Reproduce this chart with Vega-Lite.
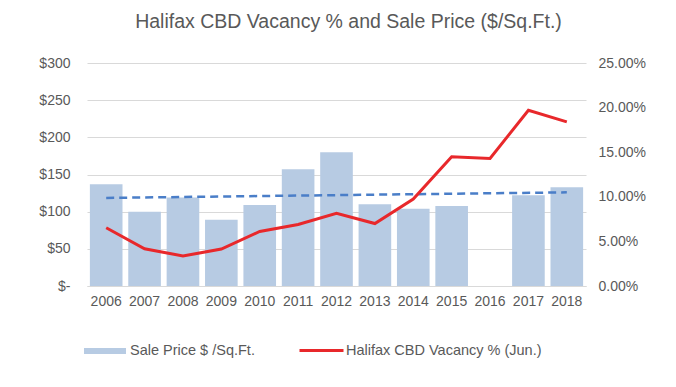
{
  "$schema": "https://vega.github.io/schema/vega-lite/v6.json",
  "width": 499,
  "height": 223,
  "autosize": {"type": "none"},
  "padding": {"left": 87, "top": 63, "right": 90, "bottom": 101},
  "background": "white",
  "title": {
    "text": "Halifax CBD Vacancy % and Sale Price ($/Sq.Ft.)",
    "font": "Liberation Sans",
    "fontSize": 19.5,
    "fontWeight": "normal",
    "color": "#595959",
    "anchor": "middle",
    "dx": 12,
    "offset": 24
  },
  "config": {
    "view": {"stroke": null},
    "font": "Liberation Sans",
    "axis": {
      "labelFont": "Liberation Sans",
      "labelFontSize": 14,
      "labelColor": "#595959",
      "ticks": false,
      "domain": false,
      "gridColor": "#d9d9d9",
      "title": null
    },
    "legend": {
      "labelFont": "Liberation Sans",
      "labelFontSize": 14.5,
      "labelColor": "#595959",
      "labelLimit": 400,
      "title": null
    }
  },
  "datasets": {
    "main": [
      {"year": "2006", "price": 137, "vacancy": 0.0653},
      {"year": "2007", "price": 100, "vacancy": 0.0418},
      {"year": "2008", "price": 119, "vacancy": 0.0336},
      {"year": "2009", "price": 89, "vacancy": 0.0414},
      {"year": "2010", "price": 109, "vacancy": 0.0612},
      {"year": "2011", "price": 157, "vacancy": 0.069},
      {"year": "2012", "price": 180, "vacancy": 0.0814},
      {"year": "2013", "price": 110, "vacancy": 0.07},
      {"year": "2014", "price": 104, "vacancy": 0.0974},
      {"year": "2015", "price": 107.5, "vacancy": 0.1448},
      {"year": "2016", "price": null, "vacancy": 0.1429},
      {"year": "2017", "price": 122, "vacancy": 0.197},
      {"year": "2018", "price": 133, "vacancy": 0.184}
    ],
    "trend": [
      {"year": "2006", "trend": 118.5},
      {"year": "2018", "trend": 126}
    ]
  },
  "data": {"name": "main"},
  "encoding": {
    "x": {
      "field": "year",
      "type": "ordinal",
      "scale": {"paddingInner": 0.15, "paddingOuter": 0.075},
      "axis": {
        "labelAngle": 0,
        "labelPadding": 8,
        "domain": true,
        "domainColor": "#d9d9d9",
        "grid": false
      }
    }
  },
  "layer": [
    {
      "mark": {"type": "bar", "color": "#b7cbe3"},
      "encoding": {
        "y": {
          "field": "price",
          "type": "quantitative",
          "scale": {"domain": [0, 300]},
          "axis": {
            "orient": "left",
            "values": [0, 50, 100, 150, 200, 250, 300],
            "labelExpr": "datum.value == 0 ? '$-' : '$' + datum.value",
            "labelPadding": 17,
            "grid": true
          }
        },
        "fill": {
          "datum": "Sale Price $ /Sq.Ft.",
          "scale": {"range": ["#b7cbe3"]},
          "legend": {
            "orient": "none",
            "legendX": -3,
            "legendY": 267,
            "symbolType": "M-1,-0.14H1V0.14H-1Z",
            "symbolSize": 1764,
            "symbolStrokeWidth": 0,
            "labelOffset": 4
          }
        }
      }
    },
    {
      "data": {"name": "trend"},
      "mark": {"type": "line", "color": "#4a7ec8", "strokeWidth": 2.5, "strokeDash": [8, 5]},
      "encoding": {
        "y": {
          "field": "trend",
          "type": "quantitative",
          "scale": {"domain": [0, 300]},
          "axis": null
        }
      }
    },
    {
      "mark": {"type": "line", "strokeWidth": 3},
      "encoding": {
        "y": {
          "field": "vacancy",
          "type": "quantitative",
          "scale": {"domain": [0, 0.25]},
          "axis": {
            "orient": "right",
            "format": ".2%",
            "values": [0, 0.05, 0.1, 0.15, 0.2, 0.25],
            "labelPadding": 12,
            "grid": false
          }
        },
        "stroke": {
          "datum": "Halifax CBD Vacancy % (Jun.)",
          "scale": {"range": ["#e8282b"]},
          "legend": {
            "orient": "none",
            "legendX": 211,
            "legendY": 264,
            "symbolType": "stroke",
            "symbolSize": 1936,
            "symbolStrokeWidth": 3,
            "labelOffset": 1
          }
        }
      }
    }
  ],
  "resolve": {"scale": {"y": "independent", "fill": "independent", "stroke": "independent"}}
}
